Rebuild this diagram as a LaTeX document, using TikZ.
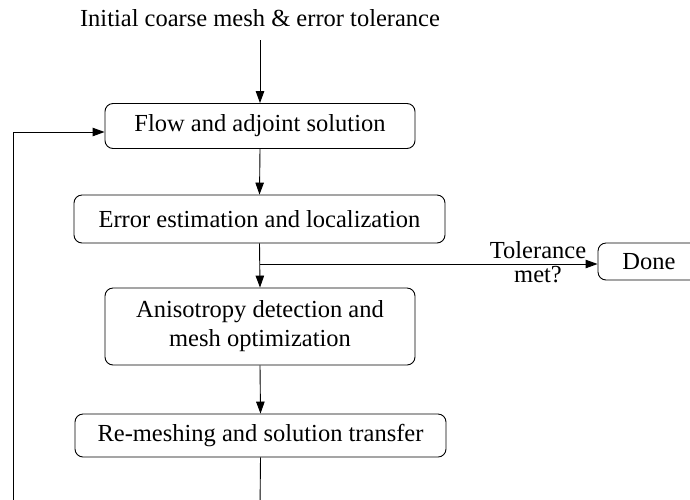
\documentclass[tikz,border=0pt]{standalone}
\usepackage{fontspec}
\setmainfont{Liberation Serif}
\usetikzlibrary{arrows.meta}
\newcommand{\diafont}{\fontsize{24.5}{29}\selectfont}
\begin{document}
\begin{tikzpicture}[x=1pt,y=-1pt,
  box/.style={draw, rounded corners=8pt, line width=0.9pt, font=\diafont, align=center, inner sep=0pt},
  lbl/.style={font=\diafont, inner sep=0pt},
  conn/.style={line width=0.9pt},
  arr/.style={conn, -{Triangle[length=12pt,width=8.5pt]}}]
\useasboundingbox (0,0) rectangle (690,499);
\clip (0,0) rectangle (690,499);
\node[lbl] (title) at (260,18) {Initial coarse mesh \& error tolerance};
\node[box, minimum width=310pt, minimum height=45pt] (flow) at (260,126) {Flow and adjoint solution};
\node[box, minimum width=371pt, minimum height=48pt] (err) at (259.5,219) {Error estimation and localization};
\node[box, minimum width=310pt, minimum height=77pt] (aniso) at (260,326.5) {Anisotropy detection and\\mesh optimization};
\node[box, minimum width=371pt, minimum height=43pt] (remesh) at (260.5,435.5) {Re-meshing and solution transfer};
\node[box, minimum width=102pt, minimum height=37pt] (done) at (649,261.5) {Done};
\node[lbl] (tol) at (538,250) {Tolerance};
\node[lbl] (met) at (538,275) {met?};
\coordinate (tstart) at (260,40);
\coordinate (branch) at (260,264);
\coordinate (bot) at (260,510);
\coordinate (loopbot) at (13,510);
\coordinate (looptop) at (13,132);
\draw[arr] (tstart) -- (flow.north);
\draw[arr] (flow.south) -- (err.north);
\draw[arr] (err.south) -- (aniso.north);
\draw[arr] (branch) -- (done.west |- branch);
\draw[arr] (aniso.south) -- (remesh.north);
\draw[conn] (remesh.south) -- (bot);
\draw[arr] (loopbot) -- (looptop) -- (flow.west |- looptop);
\end{tikzpicture}
\end{document}
